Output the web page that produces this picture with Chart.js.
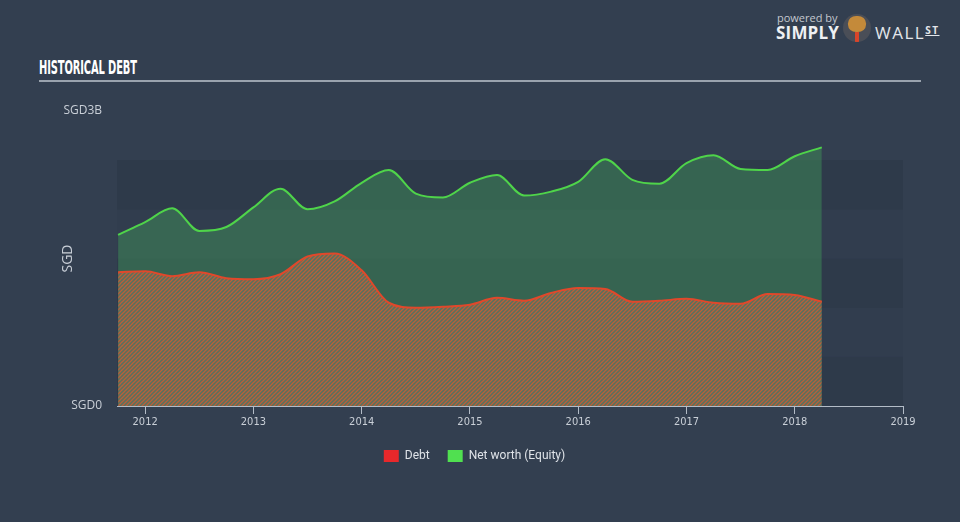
<!DOCTYPE html>
<html>
<head>
<meta charset="utf-8">
<script src="https://cdn.jsdelivr.net/npm/chart.js@4/dist/chart.umd.min.js"></script>
<style>
  html, body { margin: 0; padding: 0; }
  body { width: 960px; height: 522px; background: #333f50; position: relative; overflow: hidden; font-family: Roboto, "Open Sans", sans-serif; }
  #wrap { position: absolute; left: 0; top: 0; width: 960px; height: 522px; }
  .title { position: absolute; left: 39px; top: 56px; color: #fff; font: bold 19px "DejaVu Sans Condensed", sans-serif; transform: scaleX(0.58); transform-origin: left top; letter-spacing: -0.2px; }
  .rule { position: absolute; left: 39px; top: 80px; width: 882px; height: 2px; background: #9aa3ae; }
  .powered { position: absolute; left: 777px; top: 10px; color: #c3c8cf; font: 11px "Open Sans", sans-serif; }
  .simply { position: absolute; left: 776px; top: 21px; color: #eef0f3; font: bold 17px "Open Sans", sans-serif; letter-spacing: 0.2px; }
  .bull { position: absolute; left: 843px; top: 14px; width: 28px; height: 28px; border-radius: 50%; background: #4a4e57; overflow: hidden; }
  .bull .face { position: absolute; left: 5px; top: 2px; width: 18px; height: 16px; border-radius: 45%; background: #c48a3a; }
  .bull .tie { position: absolute; left: 12px; top: 18px; width: 4px; height: 10px; background: #d8452a; }
  .wall { position: absolute; left: 875px; top: 21px; color: #e3e6ea; font: 17px "Open Sans", sans-serif; letter-spacing: 1.5px; }
  .wall sup { font-size: 10px; font-weight: bold; text-decoration: underline; vertical-align: 5px; }
</style>
</head>
<body>
<div class="title">HISTORICAL DEBT</div>
<div class="rule"></div>
<div class="powered">powered by</div>
<div class="simply">SIMPLY</div>
<div class="bull"><div class="face"></div><div class="tie"></div></div>
<div class="wall">WALL<sup>ST</sup></div>
<div id="wrap"><canvas id="debt-chart" width="960" height="522"></canvas></div>
<script>
// quarter ends, as decimal years
const periods = [
  2011.75, 2012.0, 2012.25, 2012.5, 2012.75, 2013.0, 2013.25, 2013.5, 2013.75,
  2014.0, 2014.25, 2014.5, 2014.75, 2015.0, 2015.25, 2015.5, 2015.75,
  2016.0, 2016.25, 2016.5, 2016.75, 2017.0, 2017.25, 2017.5, 2017.75,
  2018.0, 2018.25
];
// SGD billions
const debt = [
  1.36, 1.37, 1.32, 1.36, 1.30, 1.29, 1.34, 1.52, 1.55,
  1.38, 1.05, 1.00, 1.01, 1.03, 1.10, 1.07, 1.15,
  1.20, 1.19, 1.06, 1.07, 1.09, 1.05, 1.04, 1.14,
  1.13, 1.06
];
const equity = [
  1.74, 1.87, 2.01, 1.78, 1.82, 2.02, 2.21, 2.00, 2.08,
  2.27, 2.40, 2.16, 2.12, 2.27, 2.35, 2.14, 2.18,
  2.28, 2.51, 2.30, 2.26, 2.47, 2.55, 2.41, 2.40,
  2.54, 2.63
];
const yearTicks = [2012, 2013, 2014, 2015, 2016, 2017, 2018, 2019];

function hatch() {
  const c = document.createElement("canvas");
  c.width = 4;
  c.height = 4;
  const g = c.getContext("2d");
  g.fillStyle = "#56725e";
  g.fillRect(0, 0, 4, 4);
  g.strokeStyle = "#b85f3a";
  g.lineWidth = 1.3;
  g.beginPath();
  g.moveTo(0, 4); g.lineTo(4, 0);
  g.moveTo(-1, 1); g.lineTo(1, -1);
  g.moveTo(3, 5); g.lineTo(5, 3);
  g.stroke();
  return g.createPattern(c, "repeat");
}

// alternating horizontal bands behind the plot
const bands = {
  id: "bands",
  beforeDatasetsDraw(chart) {
    const { ctx, chartArea, scales } = chart;
    const y = scales.y;
    for (let i = 0; i < 5; i++) {
      const top = y.getPixelForValue((i + 1) * 0.5);
      const bot = y.getPixelForValue(i * 0.5);
      ctx.fillStyle = i % 2 === 0 ? "#2e3a4a" : "#313d4e";
      ctx.fillRect(chartArea.left, top, chartArea.right - chartArea.left, bot - top);
    }
  },
};

// legend sits centred on the page, not on the plot
const legendShift = {
  id: "legendShift",
  afterLayout(chart) {
    chart.legend.left += 23;
    chart.legend.right += 23;
  },
};

const ctx = document.getElementById("debt-chart").getContext("2d");
new Chart(ctx, {
  type: "line",
  data: {
    datasets: [
      {
        label: "Debt",
        data: periods.map((p, i) => ({ x: p, y: debt[i] })),
        borderColor: "#e0482b",
        backgroundColor: hatch(),
        borderWidth: 2,
        pointRadius: 0,
        fill: "origin",
        cubicInterpolationMode: "monotone",
      },
      {
        label: "Net worth (Equity)",
        data: periods.map((p, i) => ({ x: p, y: equity[i] })),
        borderColor: "#4fd44a",
        backgroundColor: "rgba(66, 160, 90, 0.42)",
        borderWidth: 2,
        pointRadius: 0,
        fill: "origin",
        cubicInterpolationMode: "monotone",
      },
    ],
  },
  options: {
    responsive: false,
    animation: false,
    layout: { padding: { left: 0, top: 111, right: 57, bottom: 50 } },
    plugins: {
      legend: {
        position: "bottom",
        labels: {
          color: "#dfe3e8",
          boxWidth: 15,
          boxHeight: 12,
          padding: 18,
          font: { family: "Roboto", size: 12 },
          generateLabels: () => [
            { text: "Debt", fillStyle: "#e8282b", strokeStyle: "#e8282b", lineWidth: 0, fontColor: "#dfe3e8", datasetIndex: 0 },
            { text: "Net worth (Equity)", fillStyle: "#50e050", strokeStyle: "#50e050", lineWidth: 0, fontColor: "#dfe3e8", datasetIndex: 1 },
          ],
        },
      },
      tooltip: { mode: "index", intersect: false },
    },
    scales: {
      x: {
        type: "linear",
        min: 2011.74,
        max: 2019,
        afterFit: (s) => { s.height = 26; },
        afterBuildTicks: (s) => { s.ticks = yearTicks.map((v) => ({ value: v })); },
        ticks: {
          color: "#c9cfd7",
          padding: 2,
          maxRotation: 0,
          font: { family: "DejaVu Sans Condensed", size: 11 },
          callback: (v) => String(v),
        },
        grid: { drawOnChartArea: false, color: "#b3bcc7", tickLength: 8 },
        border: { color: "#b3bcc7", width: 1 },
      },
      y: {
        min: 0,
        max: 3,
        afterFit: (s) => { s.width = 117; },
        ticks: {
          stepSize: 0.5,
          color: "#c9cfd7",
          padding: 15,
          font: { family: "Open Sans", size: 12 },
          callback: (v) => (v === 0 ? "SGD0" : v === 3 ? "SGD3B" : ""),
        },
        grid: { display: false, drawTicks: false },
        border: { display: false },
        title: {
          display: true,
          text: "SGD",
          color: "#c9cfd7",
          padding: { top: 60, bottom: 0 },
          font: { family: "Open Sans", size: 14 },
        },
      },
    },
  },
  plugins: [bands, legendShift],
});
</script>
</body>
</html>
